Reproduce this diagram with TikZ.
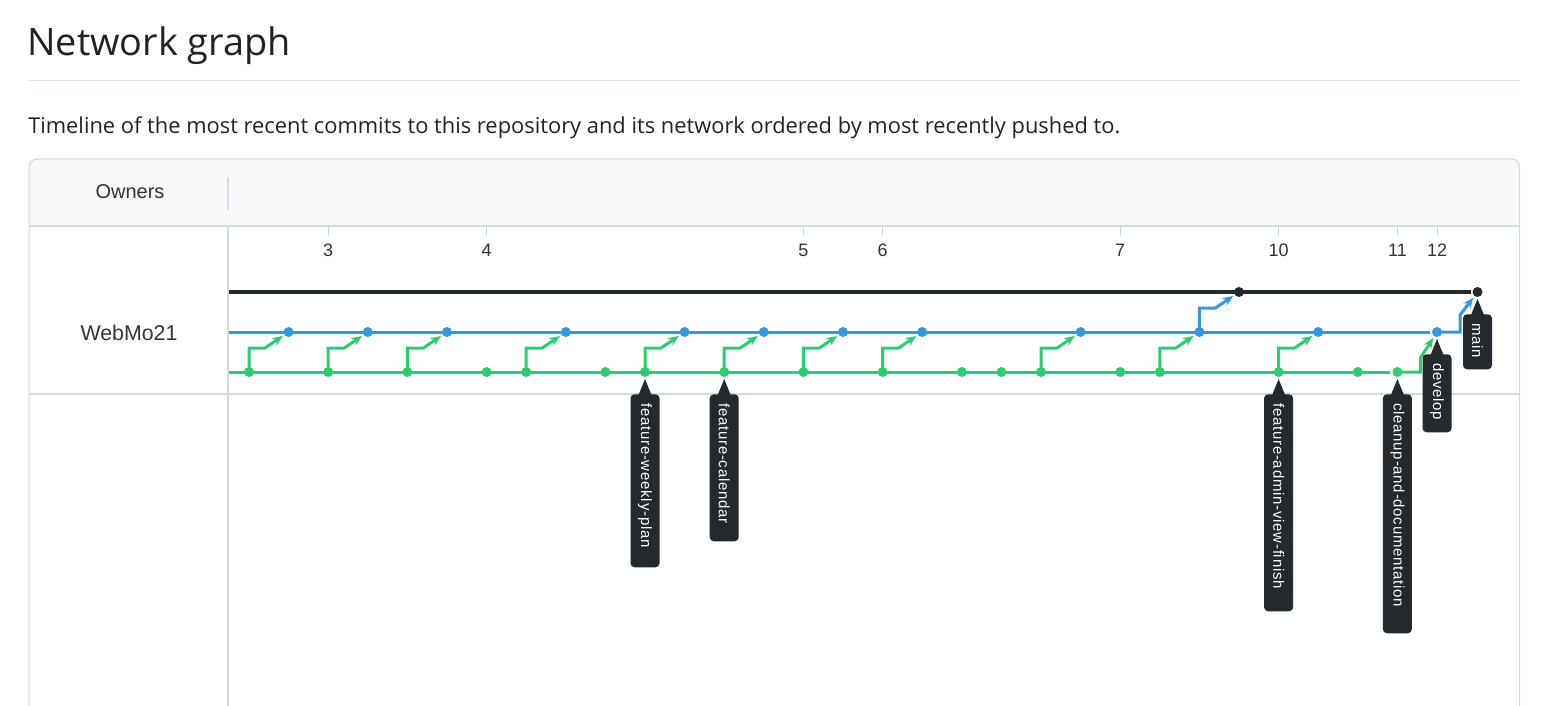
\documentclass[tikz,border=0pt]{standalone}
\usepackage{fontspec}
\setmainfont{Open Sans}
\newfontfamily\graphfont{Liberation Sans}
\newfontfamily\tagfont[LetterSpace=5]{Liberation Sans}
\usetikzlibrary{arrows.meta}
\usetikzlibrary{backgrounds}

\definecolor{ink}{HTML}{1F2328}
\definecolor{rulegray}{HTML}{D8DEE4}
\definecolor{boxline}{HTML}{D0D7DE}
\definecolor{sepline}{HTML}{D5DBE3}
\definecolor{headbg}{HTML}{F6F8FA}
\definecolor{tickgray}{HTML}{CDD3DB}
\definecolor{lbl}{HTML}{333333}
\definecolor{lanek}{HTML}{24292E}
\definecolor{laneb}{HTML}{3498DB}
\definecolor{laneg}{HTML}{2ECC71}
\definecolor{tagbg}{HTML}{24292E}

\begin{document}
\begin{tikzpicture}[x=0.75pt, y=-0.75pt,
    owner/.style={font=\graphfont\fontsize{15pt}{17pt}\selectfont, text=lbl},
    day/.style={font=\graphfont\fontsize{13.5pt}{15pt}\selectfont, text=lbl},
    tick/.style={tickgray, line width=0.75pt},
    kdot/.style={circle, fill=lanek, inner sep=0pt, minimum size=7.5pt, outer sep=1.5pt},
    bdot/.style={circle, fill=laneb, inner sep=0pt, minimum size=7.5pt, outer sep=1.5pt},
    gdot/.style={circle, fill=laneg, inner sep=0pt, minimum size=7.5pt, outer sep=1.5pt},
    klane/.style={lanek, line width=2.4pt},
    blane/.style={laneb, line width=2.25pt},
    glane/.style={laneg, line width=2.25pt},
    bmerge/.style={laneb, line width=2.25pt, -{Stealth[length=8pt, width=6.5pt]}},
    gmerge/.style={laneg, line width=2.25pt, -{Stealth[length=8pt, width=6.5pt]}},
    tag/.style={fill=tagbg, text=white, rounded corners=3pt, rotate=-90, anchor=west,
      minimum height=21.75pt, inner sep=0pt, font=\tagfont\fontsize{11.25pt}{13pt}\selectfont},
    pin/.style={fill=tagbg}]
  \useasboundingbox (0,0) rectangle (1552,706);

  % heading
  \node[anchor=base west, inner sep=0pt, font=\fontsize{28.4pt}{32pt}\selectfont, text=ink] (title) at (27,56) {Network graph};
  \draw[rulegray, line width=0.75pt] (29,81) -- (1520,81);
  \node[anchor=base west, inner sep=0pt, font=\fontsize{16.4pt}{19pt}\selectfont, text=ink] (intro) at (28,134) {Timeline of the most recent commits to this repository and its network ordered by most recently pushed to.};

  % frame
  \fill[headbg, rounded corners=6pt] (29,159) rectangle (1519.5,240);
  \fill[white] (29.5,226) rectangle (1519,250);
  \draw[boxline, line width=0.75pt, rounded corners=6pt] (29,706) -- (29,159) -- (1519.5,159) -- (1519.5,706);
  \draw[sepline, line width=1.5pt] (29,226) -- (1519.5,226);
  \draw[sepline, line width=1.1pt] (29,394) -- (1519.5,394);
  \draw[sepline, line width=1.1pt] (228,177) -- (228,210);
  \draw[sepline, line width=1.1pt] (228,226) -- (228,706);

  \node[owner] (owners) at (130,192) {Owners};
  \node[owner, font=\graphfont\fontsize{16pt}{18pt}\selectfont] (webmo) at (129,333) {WebMo21};

  % days
  \node[day] (day3) at (328.2,250) {3};
  \node[day] (day4) at (486.6,250) {4};
  \node[day] (day5) at (803.4,250) {5};
  \node[day] (day6) at (882.6,250) {6};
  \node[day] (day7) at (1120.2,250) {7};
  \node[day] (day10) at (1278.6,250) {10};
  \node[day] (day11) at (1397.4,250) {11};
  \node[day] (day12) at (1437,250) {12};
  \draw[tick] (day3) ++(0,-23) -- ++(0,9);
  \draw[tick] (day4) ++(0,-23) -- ++(0,9);
  \draw[tick] (day5) ++(0,-23) -- ++(0,9);
  \draw[tick] (day6) ++(0,-23) -- ++(0,9);
  \draw[tick] (day7) ++(0,-23) -- ++(0,9);
  \draw[tick] (day10) ++(0,-23) -- ++(0,9);
  \draw[tick] (day11) ++(0,-23) -- ++(0,9);
  \draw[tick] (day12) ++(0,-23) -- ++(0,9);

  % commits
  \node[kdot] (k25) at (1239,292) {};
  \node[kdot] (k31) at (1477.5,292) {};

  \node[bdot] (b1) at (288.6,332) {};
  \node[bdot] (b3) at (367.8,332) {};
  \node[bdot] (b5) at (447,332) {};
  \node[bdot] (b8) at (565.8,332) {};
  \node[bdot] (b11) at (684.6,332) {};
  \node[bdot] (b13) at (763.8,332) {};
  \node[bdot] (b15) at (843,332) {};
  \node[bdot] (b17) at (922.2,332) {};
  \node[bdot] (b21) at (1080.6,332) {};
  \node[bdot] (b24) at (1199.4,332) {};
  \node[bdot] (b27) at (1318.2,332) {};
  \node[bdot] (b30) at (1437,332) {};

  \node[gdot] (g0) at (249,372) {};
  \node[gdot] (g2) at (328.2,372) {};
  \node[gdot] (g4) at (407.4,372) {};
  \node[gdot] (g6) at (486.6,372) {};
  \node[gdot] (g7) at (526.2,372) {};
  \node[gdot] (g9) at (605.4,372) {};
  \node[gdot] (g10) at (645,372) {};
  \node[gdot] (g12) at (724.2,372) {};
  \node[gdot] (g14) at (803.4,372) {};
  \node[gdot] (g16) at (882.6,372) {};
  \node[gdot] (g18) at (961.8,372) {};
  \node[gdot] (g19) at (1001.4,372) {};
  \node[gdot] (g20) at (1041,372) {};
  \node[gdot] (g22) at (1120.2,372) {};
  \node[gdot] (g23) at (1159.8,372) {};
  \node[gdot] (g26) at (1278.6,372) {};
  \node[gdot] (g28) at (1357.8,372) {};
  \node[gdot] (g29) at (1397.4,372) {};

  % lanes
  \coordinate (kin) at (228,292);
  \coordinate (bin) at (228,332);
  \coordinate (gin) at (228,372);
  \begin{scope}[on background layer]
    \draw[klane] (kin) -- (k31);
    \draw[blane] (bin) -- (b30);
    \draw[glane] (gin) -- (g29);
  \end{scope}

  % merges
  \draw[gmerge] (g0.center) -- ++(0,-24) -- ++(16,0) -- (b1);
  \draw[gmerge] (g2.center) -- ++(0,-24) -- ++(16,0) -- (b3);
  \draw[gmerge] (g4.center) -- ++(0,-24) -- ++(16,0) -- (b5);
  \draw[gmerge] (g7.center) -- ++(0,-24) -- ++(16,0) -- (b8);
  \draw[gmerge] (g10.center) -- ++(0,-24) -- ++(16,0) -- (b11);
  \draw[gmerge] (g12.center) -- ++(0,-24) -- ++(16,0) -- (b13);
  \draw[gmerge] (g14.center) -- ++(0,-24) -- ++(16,0) -- (b15);
  \draw[gmerge] (g16.center) -- ++(0,-24) -- ++(16,0) -- (b17);
  \draw[gmerge] (g20.center) -- ++(0,-24) -- ++(16,0) -- (b21);
  \draw[gmerge] (g23.center) -- ++(0,-24) -- ++(16,0) -- (b24);
  \draw[gmerge] (g26.center) -- ++(0,-24) -- ++(16,0) -- (b27);
  \draw[gmerge] (g29.center) -- ++(23,0) -- ++(0,-14) -- (b30);
  \draw[bmerge] (b24.center) -- ++(0,-24) -- ++(16,0) -- (k25);
  \draw[bmerge] (b30.center) -- ++(23,0) -- ++(0,-17) -- (k31);

  % branch tags
  \node[tag] (tweekly) at ([yshift=-11.25pt]g10.south) {\makebox[129.75pt][l]{\hspace*{6.75pt}feature-weekly-plan}};
  \fill[pin] (g10.south) -- ++(-6.5,16) -- ++(13,0) -- cycle;
  \node[tag] (tcalendar) at ([yshift=-11.25pt]g12.south) {\makebox[110.25pt][l]{\hspace*{6.75pt}feature-calendar}};
  \fill[pin] (g12.south) -- ++(-6.5,16) -- ++(13,0) -- cycle;
  \node[tag] (tadmin) at ([yshift=-11.25pt]g26.south) {\makebox[162.75pt][l]{\hspace*{6.75pt}feature-admin-view-finish}};
  \fill[pin] (g26.south) -- ++(-6.5,16) -- ++(13,0) -- cycle;
  \node[tag] (tcleanup) at ([yshift=-11.25pt]g29.south) {\makebox[179.25pt][l]{\hspace*{6.75pt}cleanup-and-documentation}};
  \fill[pin] (g29.south) -- ++(-6.5,16) -- ++(13,0) -- cycle;
  \node[tag] (tdevelop) at ([yshift=-11.25pt]b30.south) {\makebox[58.5pt][l]{\hspace*{6.75pt}develop}};
  \fill[pin] (b30.south) -- ++(-6.5,16) -- ++(13,0) -- cycle;
  \node[tag] (tmain) at ([yshift=-11.25pt]k31.south) {\makebox[41.25pt][l]{\hspace*{6.75pt}main}};
  \fill[pin] (k31.south) -- ++(-6.5,16) -- ++(13,0) -- cycle;
\end{tikzpicture}
\end{document}
